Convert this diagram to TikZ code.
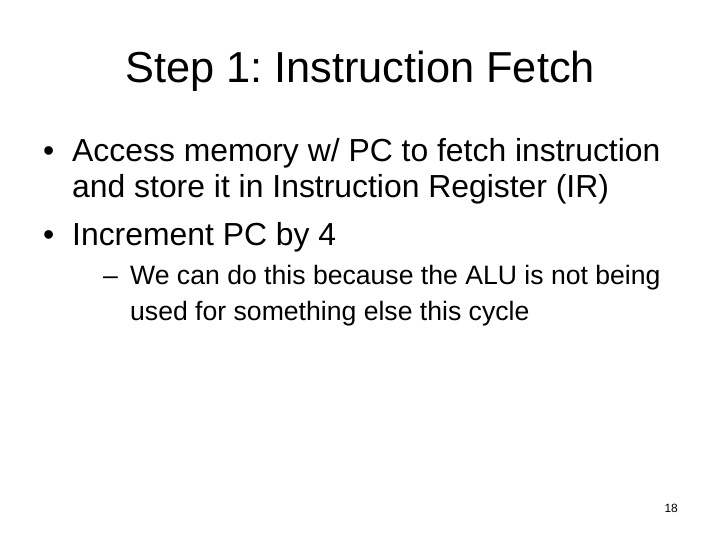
\documentclass[tikz,border=0pt]{standalone}
\usepackage{fontspec}
\setmainfont{Liberation Sans}
\frenchspacing
\usetikzlibrary{positioning}
\tikzset{
  title/.style={anchor=base, font=\fontsize{43.5}{52}\selectfont},
  item/.style={anchor=base west, inner sep=0pt, font=\fontsize{32}{38}\selectfont},
  subitem/.style={anchor=base west, inner sep=0pt, font=\fontsize{26.7}{32}\selectfont},
}
\begin{document}
\begin{tikzpicture}[x=1bp, y=-1bp]
  \useasboundingbox (0,0) rectangle (720,540);
  % title
  \node[title] (ttl) at (360,83) {Step 1: Instruction Fetch};
  % bullets
  \node[item] (b1) at (43,162) {•};
  \node[item] (l1) at (72,162) {Access memory w/ PC to fetch instruction};
  \node[item] (l2) at (72,198) {and store it in Instruction Register (IR)};
  \node[item] (b2) at (43,246) {•};
  \node[item] (l3) at (72,246) {Increment PC by 4};
  % sub bullet
  \node[subitem] (d1) at (103,285) {–};
  \node[subitem] (s1) at (130,285) {We can do this because the ALU is not being};
  \node[subitem] (s2) at (130,320) {used for something else this cycle};
  % page number
  \node[anchor=base east, inner sep=0pt, font=\fontsize{12}{14}\selectfont] (pg) at (678,512) {18};
\end{tikzpicture}
\end{document}
